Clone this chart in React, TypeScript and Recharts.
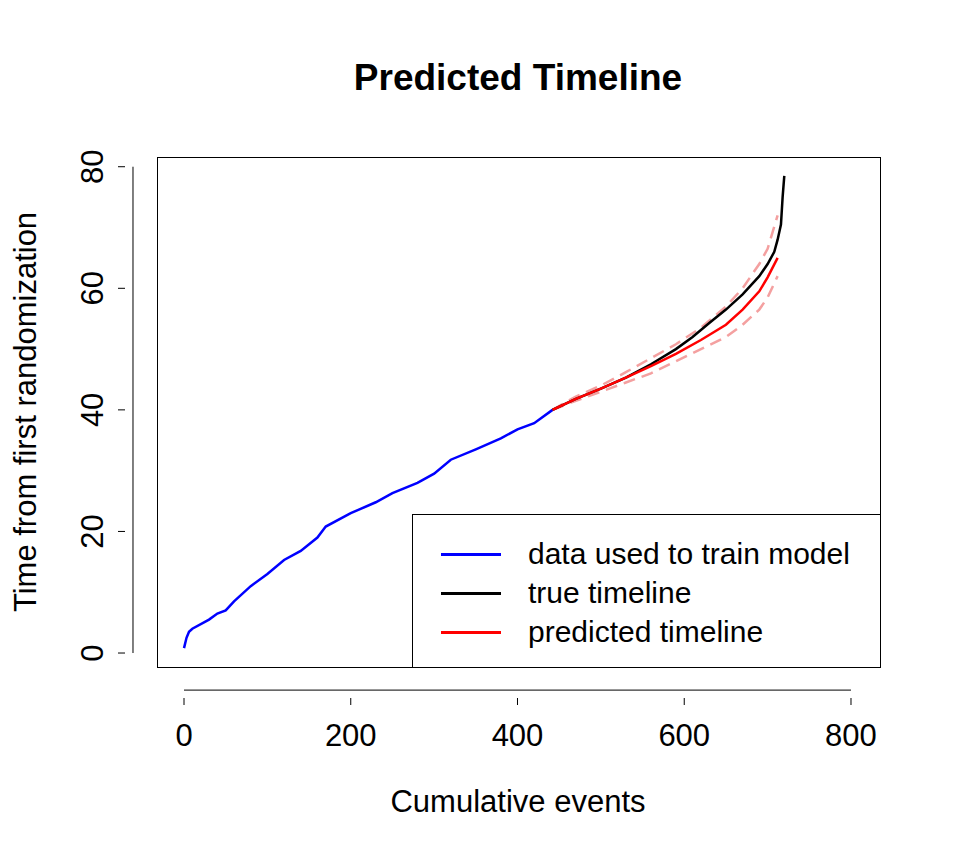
import { LineChart, Line, XAxis, YAxis, ReferenceLine } from "recharts";

const trainX = [0, 3, 6, 10, 30, 40, 50, 60, 80, 100, 120, 140, 160, 170, 200, 230, 250, 280, 300, 320, 350, 380, 400, 420, 442];
const trainY = [0.8, 2.5, 3.5, 4, 5.5, 6.5, 7, 8.5, 11, 13, 15.3, 16.8, 19, 20.8, 23, 24.8, 26.3, 28, 29.5, 31.8, 33.5, 35.3, 36.8, 37.8, 40];
const trueX = [442, 470, 500, 530, 560, 590, 610, 630, 650, 670, 690, 700, 708, 712, 716, 718, 720];
const trueY = [40, 41.8, 43.5, 45.3, 47.5, 50, 52, 54.3, 56.5, 59, 62, 64, 66, 68, 70.5, 75, 78.5];
const predX = [442, 470, 500, 530, 560, 590, 620, 650, 670, 690, 700, 712];
const predY = [40, 41.8, 43.5, 45.3, 47.2, 49.2, 51.5, 54, 56.5, 59.5, 61.8, 65];
const lowY = [40, 41.5, 43, 44.5, 46, 48, 50, 52, 54, 56.5, 58.5, 62];
const highY = [40, 42.2, 44, 46.2, 48.5, 50.8, 53.5, 57, 60, 64, 66.5, 72];

const xTicks = [0, 200, 400, 600, 800];
const yTicks = [0, 20, 40, 60, 80];
const legendItems = [
  { label: "data used to train model", color: "#0000ff" },
  { label: "true timeline", color: "#000000" },
  { label: "predicted timeline", color: "#ff0000" },
];

const toPts = (xs: number[], ys: number[]) => xs.map((x, i) => ({ x, y: ys[i] }));
const FONT = "'Liberation Sans', Arial, sans-serif";

const XTick = (props: any) => {
  const { x, y, payload } = props;
  return (
    <g>
      <line x1={x} x2={x} y1={y + 23} y2={y + 30} stroke="#000" />
      <text x={x} y={y + 71} textAnchor="middle" fontSize={31} fontFamily={FONT} fill="#000">
        {payload.value}
      </text>
    </g>
  );
};

const YTick = (props: any) => {
  const { x, y, payload } = props;
  return (
    <g>
      <line x1={x - 24} x2={x - 31} y1={y} y2={y} stroke="#000" />
      <text x={x - 46} y={y} transform={`rotate(-90 ${x - 46} ${y})`} textAnchor="middle" fontSize={31} fontFamily={FONT} fill="#000">
        {payload.value}
      </text>
    </g>
  );
};

export default function App() {
  return (
    <div style={{ position: "absolute", left: 0, top: 0, width: 960, height: 864, background: "#fff", fontFamily: FONT }}>
      <LineChart width={960} height={864} margin={{ top: 157, right: 80, bottom: 137, left: 97 }}>
        <XAxis type="number" dataKey="x" domain={[-32.4, 834.8]} ticks={xTicks} axisLine={false} tickLine={false} tick={<XTick />} height={60} allowDataOverflow />
        <YAxis type="number" dataKey="y" domain={[-2.3, 81.6]} ticks={yTicks} axisLine={false} tickLine={false} tick={<YTick />} width={60} allowDataOverflow />
        <ReferenceLine segment={[{ x: 0, y: -6.1 }, { x: 800, y: -6.1 }]} stroke="#000" ifOverflow="visible" />
        <ReferenceLine segment={[{ x: -61.2, y: 0 }, { x: -61.2, y: 80 }]} stroke="#000" ifOverflow="visible" />
        <Line data={toPts(predX, lowY)} dataKey="y" stroke="#f4a0a0" strokeWidth={2.5} strokeDasharray="12 7" dot={false} isAnimationActive={false} />
        <Line data={toPts(predX, highY)} dataKey="y" stroke="#f4a0a0" strokeWidth={2.5} strokeDasharray="12 7" dot={false} isAnimationActive={false} />
        <Line data={toPts(trainX, trainY)} dataKey="y" stroke="#0000ff" strokeWidth={2.5} dot={false} isAnimationActive={false} />
        <Line data={toPts(trueX, trueY)} dataKey="y" stroke="#000000" strokeWidth={2.5} dot={false} isAnimationActive={false} />
        <Line data={toPts(predX, predY)} dataKey="y" stroke="#ff0000" strokeWidth={2.5} dot={false} isAnimationActive={false} />
      </LineChart>
      <div style={{ position: "absolute", left: 157, top: 157, width: 722, height: 509, border: "1px solid #000", pointerEvents: "none" }} />
      <div style={{ position: "absolute", left: 412, top: 514, width: 467, height: 152, border: "1px solid #000", background: "#fff" }}>
        {legendItems.map((it, i) => (
          <div key={i} style={{ position: "absolute", left: 28, top: 20 + i * 39, display: "flex", alignItems: "center", fontSize: 30, height: 38, whiteSpace: "nowrap" }}>
            <div style={{ width: 60, height: 3, background: it.color, marginRight: 27 }} />
            <span>{it.label}</span>
          </div>
        ))}
      </div>
      <div style={{ position: "absolute", left: 157, width: 722, top: 57, textAlign: "center", fontSize: 37, fontWeight: "bold" }}>Predicted Timeline</div>
      <div style={{ position: "absolute", left: 157, width: 722, top: 784, textAlign: "center", fontSize: 31 }}>Cumulative events</div>
      <div style={{ position: "absolute", left: 26, top: 412, width: 0, height: 0 }}>
        <div style={{ position: "absolute", transform: "translate(-50%, -50%) rotate(-90deg)", whiteSpace: "nowrap", fontSize: 31 }}>Time from first randomization</div>
      </div>
    </div>
  );
}
